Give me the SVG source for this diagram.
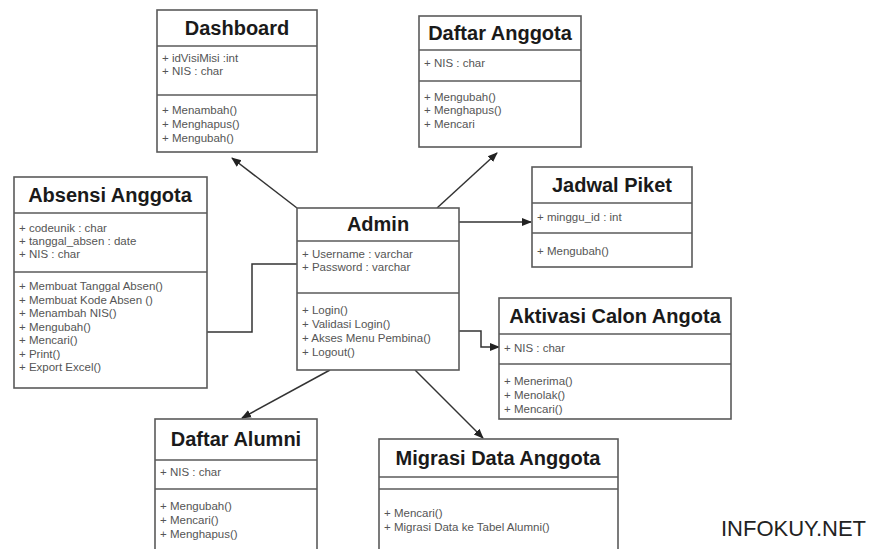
<svg xmlns="http://www.w3.org/2000/svg" width="876" height="549" viewBox="0 0 876 549">
  <style>
    .box { fill: #ffffff; stroke: #5a5a5a; stroke-width: 1.6; }
    .div { stroke: #5a5a5a; stroke-width: 1.6; }
    .title { font-family: "Liberation Sans", Arial, sans-serif; font-weight: bold; font-size: 20px; fill: #1a1a1a; text-anchor: middle; }
    .item { font-family: "Liberation Sans", Arial, sans-serif; font-size: 11.5px; fill: #555555; }
    .conn { fill: none; stroke: #333333; stroke-width: 1.5; }
    .mark { font-family: "Liberation Sans", Arial, sans-serif; font-size: 22px; fill: #222222; }
  </style>
  <defs>
    <marker id="arrow" markerUnits="userSpaceOnUse" markerWidth="10" markerHeight="10" viewBox="0 0 10 10" refX="9" refY="5" orient="auto">
      <path d="M0,1 L10,5 L0,9 Z" fill="#222222"/>
    </marker>
  </defs>
  <rect width="876" height="549" fill="#ffffff"/>

  <g id="connectors">
    <line class="conn" x1="297" y1="208" x2="232" y2="158" marker-end="url(#arrow)"/>
    <line class="conn" x1="437" y1="208" x2="497" y2="153" marker-end="url(#arrow)"/>
    <line class="conn" x1="459" y1="222" x2="531" y2="222" marker-end="url(#arrow)"/>
    <polyline class="conn" points="459,331 481,331 481,347 499,347" marker-end="url(#arrow)"/>
    <polyline class="conn" points="297,264 252,264 252,332 207,332"/>
    <line class="conn" x1="330" y1="370" x2="242" y2="418" marker-end="url(#arrow)"/>
    <line class="conn" x1="415" y1="370" x2="483" y2="438" marker-end="url(#arrow)"/>
  </g>

  <g id="dashboard">
    <rect class="box" x="157" y="10" width="160" height="142"/>
    <line class="div" x1="157" y1="46" x2="317" y2="46"/>
    <line class="div" x1="157" y1="95" x2="317" y2="95"/>
    <text class="title" x="237" y="35">Dashboard</text>
    <text class="item" x="162" y="62">+ idVisiMisi :int</text>
    <text class="item" x="162" y="75">+ NIS : char</text>
    <text class="item" x="162" y="114">+ Menambah()</text>
    <text class="item" x="162" y="128">+ Menghapus()</text>
    <text class="item" x="162" y="142">+ Mengubah()</text>
  </g>

  <g id="daftar-anggota">
    <rect class="box" x="419" y="16" width="162" height="131"/>
    <line class="div" x1="419" y1="50" x2="581" y2="50"/>
    <line class="div" x1="419" y1="81" x2="581" y2="81"/>
    <text class="title" x="500" y="40">Daftar Anggota</text>
    <text class="item" x="424" y="67">+ NIS : char</text>
    <text class="item" x="424" y="101">+ Mengubah()</text>
    <text class="item" x="424" y="114">+ Menghapus()</text>
    <text class="item" x="424" y="128">+ Mencari</text>
  </g>

  <g id="absensi-anggota">
    <rect class="box" x="14" y="177" width="193" height="211"/>
    <line class="div" x1="14" y1="213" x2="207" y2="213"/>
    <line class="div" x1="14" y1="272" x2="207" y2="272"/>
    <text class="title" x="110" y="202">Absensi Anggota</text>
    <text class="item" x="19" y="232">+ codeunik : char</text>
    <text class="item" x="19" y="245">+ tanggal_absen : date</text>
    <text class="item" x="19" y="258">+ NIS : char</text>
    <text class="item" x="19" y="290">+ Membuat Tanggal Absen()</text>
    <text class="item" x="19" y="303.5">+ Membuat Kode Absen ()</text>
    <text class="item" x="19" y="317">+ Menambah NIS()</text>
    <text class="item" x="19" y="330.5">+ Mengubah()</text>
    <text class="item" x="19" y="344">+ Mencari()</text>
    <text class="item" x="19" y="357.5">+ Print()</text>
    <text class="item" x="19" y="371">+ Export Excel()</text>
  </g>

  <g id="admin">
    <rect class="box" x="297" y="208" width="162" height="162"/>
    <line class="div" x1="297" y1="241" x2="459" y2="241"/>
    <line class="div" x1="297" y1="293" x2="459" y2="293"/>
    <text class="title" x="378" y="231">Admin</text>
    <text class="item" x="302" y="258">+ Username :  varchar</text>
    <text class="item" x="302" y="271">+ Password : varchar</text>
    <text class="item" x="302" y="314">+ Login()</text>
    <text class="item" x="302" y="328">+ Validasi Login()</text>
    <text class="item" x="302" y="342">+ Akses Menu Pembina()</text>
    <text class="item" x="302" y="356">+ Logout()</text>
  </g>

  <g id="jadwal-piket">
    <rect class="box" x="532" y="167" width="160" height="100"/>
    <line class="div" x1="532" y1="203" x2="692" y2="203"/>
    <line class="div" x1="532" y1="233" x2="692" y2="233"/>
    <text class="title" x="612" y="192">Jadwal Piket</text>
    <text class="item" x="537" y="221">+ minggu_id : int</text>
    <text class="item" x="537" y="255">+ Mengubah()</text>
  </g>

  <g id="aktivasi-calon-angota">
    <rect class="box" x="499" y="298" width="232" height="121"/>
    <line class="div" x1="499" y1="334" x2="731" y2="334"/>
    <line class="div" x1="499" y1="364" x2="731" y2="364"/>
    <text class="title" x="615" y="323">Aktivasi Calon Angota</text>
    <text class="item" x="504" y="352">+ NIS : char</text>
    <text class="item" x="504" y="385">+ Menerima()</text>
    <text class="item" x="504" y="399">+ Menolak()</text>
    <text class="item" x="504" y="413">+ Mencari()</text>
  </g>

  <g id="daftar-alumni">
    <rect class="box" x="155" y="419" width="162" height="145"/>
    <line class="div" x1="155" y1="460" x2="317" y2="460"/>
    <line class="div" x1="155" y1="489" x2="317" y2="489"/>
    <text class="title" x="236" y="446">Daftar Alumni</text>
    <text class="item" x="160" y="476">+ NIS : char</text>
    <text class="item" x="160" y="510">+ Mengubah()</text>
    <text class="item" x="160" y="524">+ Mencari()</text>
    <text class="item" x="160" y="538">+ Menghapus()</text>
  </g>

  <g id="migrasi-data-anggota">
    <rect class="box" x="379" y="439" width="239" height="125"/>
    <line class="div" x1="379" y1="477" x2="618" y2="477"/>
    <line class="div" x1="379" y1="489" x2="618" y2="489"/>
    <text class="title" x="498" y="465">Migrasi Data Anggota</text>
    <text class="item" x="384" y="517">+ Mencari()</text>
    <text class="item" x="384" y="531">+ Migrasi Data ke Tabel Alumni()</text>
  </g>

  <text class="mark" x="721" y="536">INFOKUY.NET</text>
</svg>
